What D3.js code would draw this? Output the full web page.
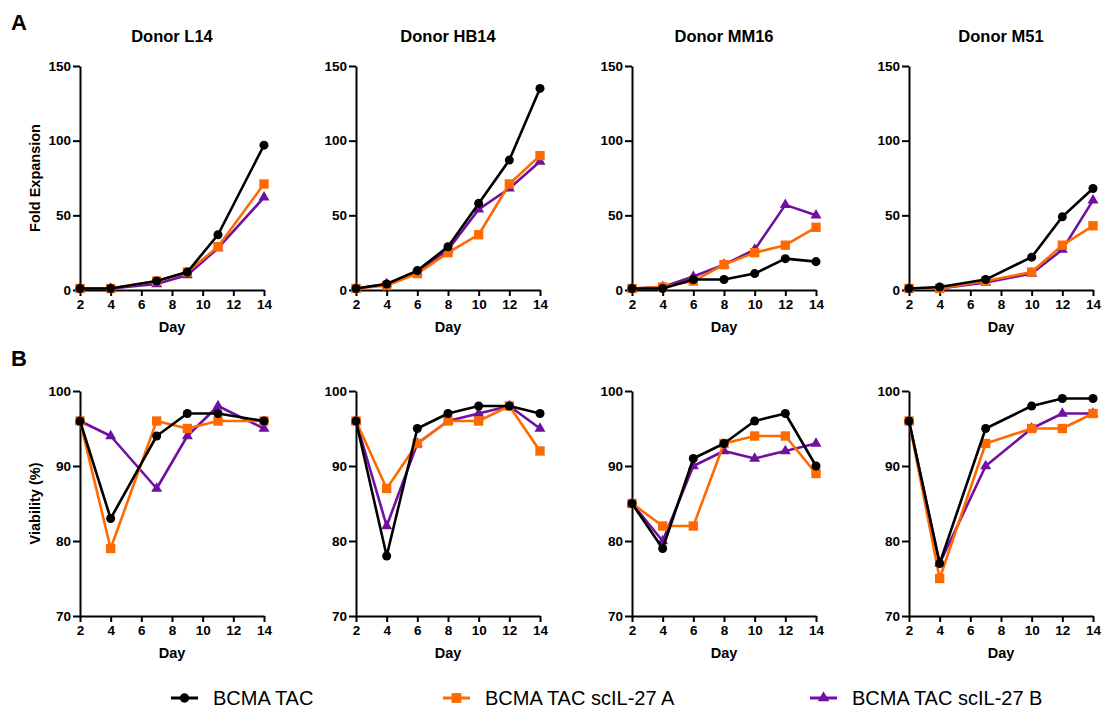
<!DOCTYPE html>
<html>
<head>
<meta charset="utf-8">
<script src="https://cdn.jsdelivr.net/npm/d3@7"></script>
<style>
  html, body { margin: 0; padding: 0; background: #fff; }
  svg { display: block; font-family: Arial, "Liberation Sans", sans-serif; }
</style>
</head>
<body>
<svg id="chart" width="1102" height="708"></svg>
<script>
// Donors and series
const donors = ["Donor L14", "Donor HB14", "Donor MM16", "Donor M51"];
const seriesNames = ["BCMA TAC", "BCMA TAC scIL-27 A", "BCMA TAC scIL-27 B"];
const seriesColors = ["#000000", "#FF6A00", "#7010A0"];
const seriesShapes = ["circle", "square", "triangle"];

// Sampling days per donor
const daysL14 = [2, 4, 7, 9, 11, 14];
const daysHB14 = [2, 4, 6, 8, 10, 12, 14];
const daysMM16 = [2, 4, 6, 8, 10, 12, 14];
const daysM51 = [2, 4, 7, 10, 12, 14];

// Fold expansion (TAC, scIL-27 A, scIL-27 B)
const foldL14 = [[1, 1, 6, 12, 37, 97], [1, 1, 6, 12, 29, 71], [1, 1, 4, 10, 28, 62]];
const foldHB14 = [[1, 4, 13, 29, 58, 87, 135], [1, 3, 11, 25, 37, 71, 90], [1, 4, 12, 27, 54, 68, 86]];
const foldMM16 = [[1, 1, 7, 7, 11, 21, 19], [1, 2, 6, 17, 25, 30, 42], [1, 2, 9, 17, 27, 57, 50]];
const foldM51 = [[1, 2, 7, 22, 49, 68], [1, 1, 6, 12, 30, 43], [1, 1, 5, 11, 27, 60]];

// Viability % (TAC, scIL-27 A, scIL-27 B)
const viaL14 = [[96, 83, 94, 97, 97, 96], [96, 79, 96, 95, 96, 96], [96, 94, 87, 94, 98, 95]];
const viaHB14 = [[96, 78, 95, 97, 98, 98, 97], [96, 87, 93, 96, 96, 98, 92], [96, 82, 93, 96, 97, 98, 95]];
const viaMM16 = [[85, 79, 91, 93, 96, 97, 90], [85, 82, 82, 93, 94, 94, 89], [85, 80, 90, 92, 91, 92, 93]];
const viaM51 = [[96, 77, 95, 98, 99, 99], [96, 75, 93, 95, 95, 97], [96, 77, 90, 95, 97, 97]];

// Axis ticks
const xTicks = [2, 4, 6, 8, 10, 12, 14];
const foldTicks = [0, 50, 100, 150];
const viaTicks = [70, 80, 90, 100];

const daysList = [daysL14, daysHB14, daysMM16, daysM51];
const foldList = [foldL14, foldHB14, foldMM16, foldM51];
const viaList = [viaL14, viaHB14, viaMM16, viaM51];

const svg = d3.select("#chart");

const panelLeft = [80, 356, 632, 909];
const panelWidth = 184;

function symbolFor(shape, scale) {
  const k = scale || 1;
  if (shape === "circle") return d3.symbol().type(d3.symbolCircle).size(64 * k);
  if (shape === "square") return d3.symbol().type(d3.symbolSquare).size(88 * k);
  return d3.symbol().type(d3.symbolTriangle).size(52 * k);
}

function drawPanel(g, days, values, yDomain, yTicks, top, bottom, left, yLabel, title) {
  const x = d3.scaleLinear().domain([2, 14]).range([left, left + panelWidth]);
  const y = d3.scaleLinear().domain(yDomain).range([bottom, top]);

  if (title) {
    g.append("text")
      .attr("x", left + panelWidth / 2).attr("y", 42)
      .attr("text-anchor", "middle")
      .attr("font-size", 16.5).attr("font-weight", "bold")
      .text(title);
  }

  const xAxis = g.append("g")
    .attr("transform", `translate(0,${bottom})`)
    .call(d3.axisBottom(x).tickValues(xTicks).tickSize(6).tickPadding(3).tickSizeOuter(0));
  const yAxis = g.append("g")
    .attr("transform", `translate(${left},0)`)
    .call(d3.axisLeft(y).tickValues(yTicks).tickSize(7).tickPadding(2).tickSizeOuter(0));

  [xAxis, yAxis].forEach(a => {
    a.select(".domain").attr("stroke", "#000").attr("stroke-width", 2);
    a.selectAll(".tick line").attr("stroke", "#000").attr("stroke-width", 2);
    a.selectAll(".tick text")
      .attr("fill", "#000").attr("font-size", 13.5).attr("font-weight", "bold")
      .attr("font-family", "Arial, 'Liberation Sans', sans-serif");
  });

  g.append("text")
    .attr("x", left + panelWidth / 2).attr("y", bottom + 42)
    .attr("text-anchor", "middle")
    .attr("font-size", 14.5).attr("font-weight", "bold")
    .text("Day");

  if (yLabel) {
    g.append("text")
      .attr("transform", `translate(${left - 40},${(top + bottom) / 2}) rotate(-90)`)
      .attr("text-anchor", "middle")
      .attr("font-size", 14.5).attr("font-weight", "bold")
      .text(yLabel);
  }

  const line = d3.line().x(d => x(d[0])).y(d => y(d[1]));

  // Draw scIL-27 B, then A, then TAC on top
  [2, 1, 0].forEach(s => {
    const pts = days.map((d, i) => [d, values[s][i]]);
    g.append("path")
      .datum(pts)
      .attr("fill", "none")
      .attr("stroke", seriesColors[s])
      .attr("stroke-width", 2.6)
      .attr("stroke-linejoin", "round")
      .attr("d", line);
    g.selectAll(null)
      .data(pts)
      .enter().append("path")
      .attr("transform", d => `translate(${x(d[0])},${y(d[1])})`)
      .attr("d", symbolFor(seriesShapes[s])())
      .attr("fill", seriesColors[s]);
  });
}

donors.forEach((name, i) => {
  const g1 = svg.append("g");
  drawPanel(g1, daysList[i], foldList[i], [0, 150], foldTicks, 66, 290,
    panelLeft[i], i === 0 ? "Fold Expansion" : null, name);
  const g2 = svg.append("g");
  drawPanel(g2, daysList[i], viaList[i], [70, 100], viaTicks, 391, 616,
    panelLeft[i], i === 0 ? "Viability (%)" : null, null);
});

// Panel letters
svg.append("text").attr("x", 11).attr("y", 30)
  .attr("font-size", 22).attr("font-weight", "bold").text("A");
svg.append("text").attr("x", 11).attr("y", 366)
  .attr("font-size", 22).attr("font-weight", "bold").text("B");

// Legend
const legendX = [171, 443, 810];
const legendY = 698;
seriesNames.forEach((n, s) => {
  const lg = svg.append("g");
  lg.append("line")
    .attr("x1", legendX[s]).attr("x2", legendX[s] + 27)
    .attr("y1", legendY).attr("y2", legendY)
    .attr("stroke", seriesColors[s]).attr("stroke-width", 3);
  lg.append("path")
    .attr("transform", `translate(${legendX[s] + 13.5},${legendY})`)
    .attr("d", symbolFor(seriesShapes[s], 1.1)())
    .attr("fill", seriesColors[s]);
  lg.append("text")
    .attr("x", legendX[s] + 42).attr("y", legendY + 7)
    .attr("font-size", 20)
    .text(n);
});
</script>
</body>
</html>
